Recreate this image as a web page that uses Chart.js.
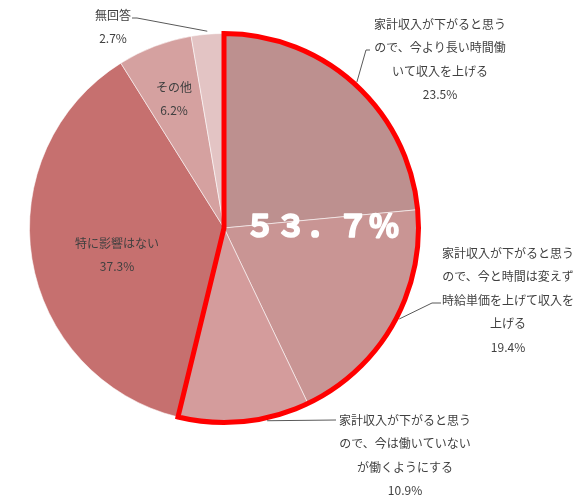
<!DOCTYPE html>
<html>
<head>
<meta charset="utf-8">
<script src="https://cdn.jsdelivr.net/npm/chart.js@4.4.1/dist/chart.umd.min.js"></script>
<style>
html,body{margin:0;padding:0;background:#fff;}
#wrap{width:584px;height:500px;}
</style>
</head>
<body>
<div id="wrap"><canvas id="c" width="584" height="500"></canvas></div>
<script>
// ---- data ----
const categories = [
  ['家計収入が下がると思う','ので、今より長い時間働','いて収入を上げる'],
  ['家計収入が下がると思う','ので、今と時間は変えず','時給単価を上げて収入を','上げる'],
  ['家計収入が下がると思う','ので、今は働いていない','が働くようにする'],
  ['特に影響はない'],
  ['その他'],
  ['無回答']
];
const values = [23.5, 19.4, 10.9, 37.3, 6.2, 2.7];
const highlightCount = 3;               // first three slices are outlined
const highlightText = '５３．７％';      // 23.5 + 19.4 + 10.9

// ---- styles / layout ----
const colors = ['#bd908f', '#c99594', '#d49c9c', '#c6706f', '#d5a1a0', '#e3c4c4'];
const FONT = '"Noto Sans CJK JP", "Noto Sans", sans-serif';
// label anchor offsets from pie centre (x of text centre, y of first line)
const labelOffsets = [[216,-204],[284,25],[181,192],[-107,15],[-50,-141],[-111,-213]];
// leader: fraction of slice angle where line starts, and text-side points (offset from centre)
const leaders = [
  {frac:0.5,  pts:[[142,-178],[146,-178]]},
  {frac:0.47, pts:[[208,75],[217,75]]},
  {frac:0.33, pts:[[112,192]]},
  null,
  null,
  {frac:0.5,  pts:[[-87,-210],[-92,-210]]}
];

const overlay = {
  id:'overlay',
  afterDatasetsDraw(chart){
    const ctx = chart.ctx;
    const arcs = chart.getDatasetMeta(0).data;
    const cx = arcs[0].x, cy = arcs[0].y, R = arcs[0].outerRadius;
    ctx.save();
    // red outline around highlighted group
    ctx.beginPath();
    ctx.moveTo(cx, cy);
    ctx.arc(cx, cy, R, arcs[0].startAngle, arcs[highlightCount-1].endAngle);
    ctx.closePath();
    ctx.strokeStyle = '#ff0000';
    ctx.lineWidth = 5;
    ctx.lineJoin = 'miter';
    ctx.stroke();

    // leader lines
    ctx.strokeStyle = '#595959';
    ctx.lineWidth = 1;
    leaders.forEach((l,i)=>{
      if(!l) return;
      const a = arcs[i];
      const ang = a.startAngle + (a.endAngle - a.startAngle)*l.frac;
      ctx.beginPath();
      ctx.moveTo(cx + Math.cos(ang)*(R+3), cy + Math.sin(ang)*(R+3));
      l.pts.forEach(p=>ctx.lineTo(cx+p[0], cy+p[1]));
      ctx.stroke();
    });

    // labels
    ctx.fillStyle = '#404040';
    ctx.font = '12px ' + FONT;
    ctx.textAlign = 'center';
    ctx.textBaseline = 'middle';
    categories.forEach((lines,i)=>{
      const [dx,dy] = labelOffsets[i];
      const all = lines.concat([values[i].toFixed(1) + '%']);
      all.forEach((t,k)=>{
        ctx.fillText(t, cx+dx, cy+dy+k*23.6);
      });
    });

    // big total text
    ctx.fillStyle = '#ffffff';
    ctx.strokeStyle = '#ffffff';
    ctx.lineWidth = 1.6;
    ctx.lineJoin = 'round';
    ctx.font = 'bold 31px ' + FONT;
    ctx.fillText(highlightText, cx+98, cy-3);
    ctx.strokeText(highlightText, cx+98, cy-3);
    ctx.restore();
  }
};

new Chart(document.getElementById('c'), {
  type:'pie',
  data:{
    labels: categories.map(c=>c.join('')),
    datasets:[{
      data: values,
      backgroundColor: colors,
      borderColor: 'rgba(255,255,255,0.55)',
      borderWidth: 1
    }]
  },
  options:{
    responsive:false,
    animation:false,
    layout:{padding:{left:29, right:165, top:33, bottom:77}},
    plugins:{legend:{display:false}, tooltip:{enabled:false}}
  },
  plugins:[overlay]
});
</script>
</body>
</html>
